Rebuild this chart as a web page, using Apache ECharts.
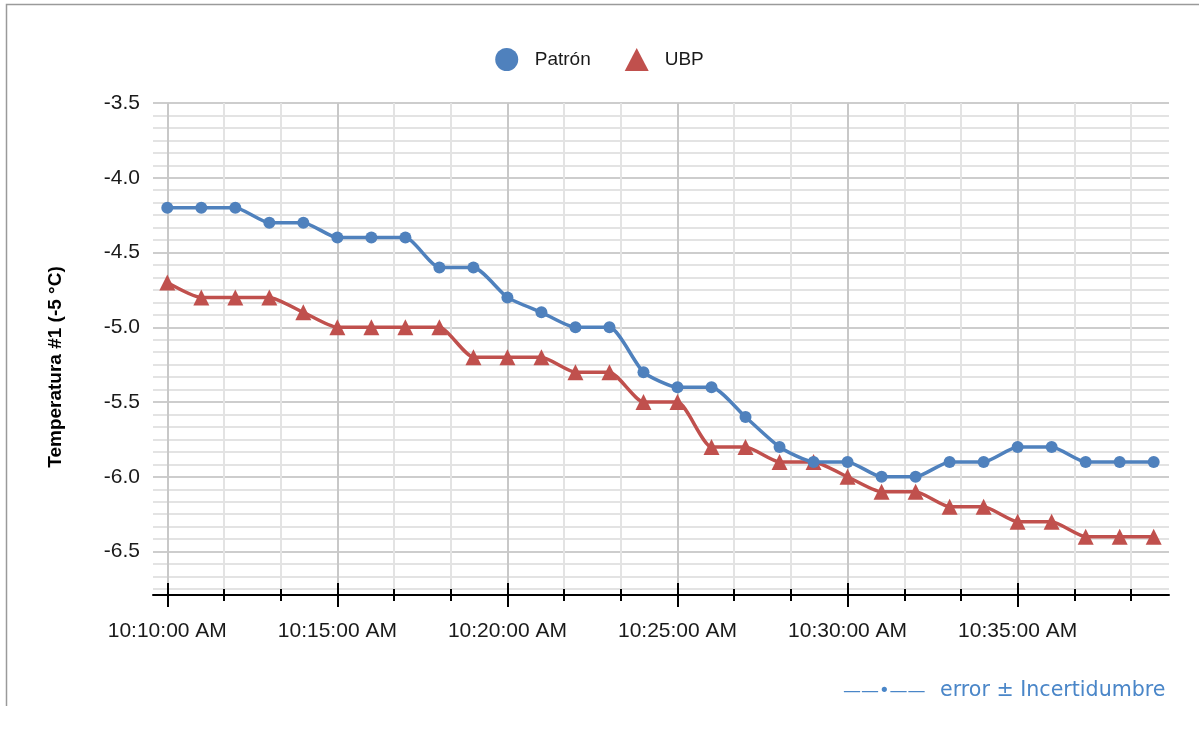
<!DOCTYPE html>
<html>
<head>
<meta charset="utf-8">
<title>Temperatura #1</title>
<script src="https://cdn.jsdelivr.net/npm/echarts@6/dist/echarts.min.js"></script>
<style>
  html, body { margin: 0; padding: 0; background: #fff; }
  #chart { width: 1199px; height: 735px; }
</style>
</head>
<body>
<div id="chart"></div>
<script>
// horas de lectura (una por minuto)
var times = [
  "10:10:00 AM", "10:11:00 AM", "10:12:00 AM", "10:13:00 AM", "10:14:00 AM",
  "10:15:00 AM", "10:16:00 AM", "10:17:00 AM", "10:18:00 AM", "10:19:00 AM",
  "10:20:00 AM", "10:21:00 AM", "10:22:00 AM", "10:23:00 AM", "10:24:00 AM",
  "10:25:00 AM", "10:26:00 AM", "10:27:00 AM", "10:28:00 AM", "10:29:00 AM",
  "10:30:00 AM", "10:31:00 AM", "10:32:00 AM", "10:33:00 AM", "10:34:00 AM",
  "10:35:00 AM", "10:36:00 AM", "10:37:00 AM", "10:38:00 AM", "10:39:00 AM"
];
var patron = [
  -4.2, -4.2, -4.2, -4.3, -4.3, -4.4, -4.4, -4.4, -4.6, -4.6,
  -4.8, -4.9, -5.0, -5.0, -5.3, -5.4, -5.4, -5.6, -5.8, -5.9,
  -5.9, -6.0, -6.0, -5.9, -5.9, -5.8, -5.8, -5.9, -5.9, -5.9
];
var ubp = [
  -4.7, -4.8, -4.8, -4.8, -4.9, -5.0, -5.0, -5.0, -5.0, -5.2,
  -5.2, -5.2, -5.3, -5.3, -5.5, -5.5, -5.8, -5.8, -5.9, -5.9,
  -6.0, -6.1, -6.1, -6.2, -6.2, -6.3, -6.3, -6.4, -6.4, -6.4
];
var xMajorTicks = ["10:10:00 AM", "10:15:00 AM", "10:20:00 AM", "10:25:00 AM", "10:30:00 AM", "10:35:00 AM"];
var yMajorTicks = [-3.5, -4.0, -4.5, -5.0, -5.5, -6.0, -6.5];

(function() {
  var myChart = echarts.init(document.getElementById("chart"));

  // minutos desde las 10:10
  var toMin = function(t) {
    var p = t.split(" ")[0].split(":");
    return (+p[0] - 10) * 60 + (+p[1] - 10) + (+p[2]) / 60;
  };
  var fromMin = function(v) {
    var total = 10 * 60 + 10 + Math.round(v);
    var h = Math.floor(total / 60), m = total % 60;
    return h + ":" + (m < 10 ? "0" + m : m) + ":00 AM";
  };
  var xs = times.map(toMin);
  var pair = function(arr) {
    return arr.map(function(v, i) { return [xs[i], v]; });
  };

  var xMajor = xMajorTicks.map(toMin);
  var xMinor = [];
  for (var i = 0; i <= 17; i++) xMinor.push(i * 5 / 3);
  var yMinor = [];
  for (var j = 0; j <= 39; j++) yMinor.push(-3.5 - j / 12);

  var xMin = -0.42, xMax = 29.45, yMin = -6.79, yMax = -3.5;
  var txt = "#1A1A1A";
  var font = "Liberation Sans, Arial, sans-serif";

  var option = {
    animation: false,
    backgroundColor: "#fff",
    color: ["#4F81BD", "#C0504D"],
    legend: {
      top: 43,
      left: "center",
      itemWidth: 24,
      itemHeight: 23,
      itemGap: 34,
      textStyle: { fontSize: 19, color: txt, fontFamily: font, padding: [0, 0, 0, 11] },
      data: [
        { name: "Patrón", icon: "circle" },
        { name: "UBP", icon: "triangle" }
      ]
    },
    grid: { left: 153, right: 30, top: 103, bottom: 140, containLabel: false, outerBoundsMode: "none" },
    xAxis: [
      {
        // rejilla secundaria y marcas cortas
        type: "value", position: "bottom", min: xMin, max: xMax, offset: -6,
        axisLine: { show: false },
        axisTick: { show: true, customValues: xMinor, length: 12, lineStyle: { color: "#000", width: 2 } },
        axisLabel: { show: false },
        splitLine: { show: true, lineStyle: { color: "#E3E3E3", width: 2 } }
      },
      {
        // rejilla principal y marcas largas
        type: "value", position: "bottom", min: xMin, max: xMax, offset: -12,
        axisLine: { show: false },
        axisTick: { show: true, customValues: xMajor, length: 24, lineStyle: { color: "#000", width: 2 } },
        axisLabel: { show: false },
        splitLine: { show: true, lineStyle: { color: "#C8C8C8", width: 2 } }
      },
      {
        type: "value", position: "bottom", min: xMin, max: xMax,
        axisLine: { show: true, lineStyle: { color: "#000", width: 2 } },
        axisTick: { show: false, customValues: xMajor },
        splitLine: { show: false },
        axisLabel: {
          show: true, customValues: xMajor, margin: 26,
          fontSize: 21, color: txt, fontFamily: font,
          formatter: function(v) { return fromMin(v); }
        }
      }
    ],
    yAxis: [
      {
        type: "value", position: "left", min: yMin, max: yMax,
        axisLine: { show: false },
        axisTick: { show: false, customValues: yMinor },
        axisLabel: { show: false },
        splitLine: { show: true, lineStyle: { color: "#E3E3E3", width: 2 } }
      },
      {
        type: "value", position: "left", min: yMin, max: yMax,
        axisLine: { show: false },
        axisTick: { show: false, customValues: yMajorTicks },
        splitLine: { show: true, lineStyle: { color: "#CDCDCD", width: 2 } },
        axisLabel: {
          show: true, customValues: yMajorTicks, margin: 13,
          fontSize: 21, color: txt, fontFamily: font,
          formatter: function(v) { return v.toFixed(1); }
        }
      }
    ],
    graphic: [
      {
        type: "polyline", silent: true,
        shape: { points: [[6.5, 706], [6.5, 4.5], [1199, 4.5]] },
        style: { stroke: "#9A9A9A", lineWidth: 1.5, fill: null }
      },
      {
        type: "text", x: 56, y: 367, rotation: Math.PI / 2,
        style: {
          text: "Temperatura #1 (-5 °C)", fill: "#000",
          font: "bold 19px " + font, textAlign: "center", textVerticalAlign: "middle"
        }
      },
      {
        type: "text", x: 843, y: 691,
        style: {
          text: "——•——", fill: "#4A86C8",
          font: "18px DejaVu Sans, sans-serif", textVerticalAlign: "middle"
        }
      },
      {
        type: "text", x: 940, y: 691,
        style: {
          text: "error ± Incertidumbre", fill: "#4A86C8",
          font: "20.6px DejaVu Sans, sans-serif", textVerticalAlign: "middle"
        }
      }
    ],
    series: [
      {
        name: "Patrón", type: "line", xAxisIndex: 2, yAxisIndex: 1,
        smooth: 0.2, symbol: "circle", symbolSize: 12, z: 5,
        lineStyle: { width: 3.5 },
        data: pair(patron)
      },
      {
        name: "UBP", type: "line", xAxisIndex: 2, yAxisIndex: 1,
        smooth: 0.2, symbol: "triangle", symbolSize: 16, z: 4,
        lineStyle: { width: 3.5 },
        data: pair(ubp)
      }
    ]
  };
  myChart.setOption(option);
  window.addEventListener("resize", function() {
    myChart.resize();
  });
})();
</script>
</body>
</html>
